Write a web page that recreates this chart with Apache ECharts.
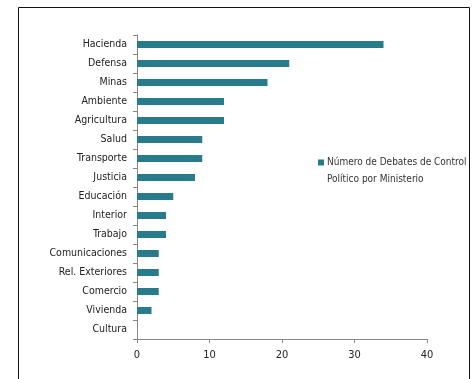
<!DOCTYPE html>
<html><head><meta charset="utf-8">
<script src="https://cdn.jsdelivr.net/npm/echarts@6/dist/echarts.min.js"></script>
<style>html,body{margin:0;padding:0;background:#fff;}#c{width:474px;height:379px;}</style>
</head><body><div id="c"></div>
<script>
var categories = ['Hacienda','Defensa','Minas','Ambiente','Agricultura','Salud','Transporte','Justicia','Educación','Interior','Trabajo','Comunicaciones','Rel. Exteriores','Comercio','Vivienda','Cultura'];
var values = [34,21,18,12,12,9,9,8,5,4,4,3,3,3,2,0];
var seriesName = 'Número de Debates de Control Político por Ministerio';
var legendLines = ['Número de Debates de Control','Político por Ministerio'];
var xTicks = [0,10,20,30,40];
var FONT = '"DejaVu Sans Condensed",sans-serif';
var COLOR = '#277b8b';
var chart = echarts.init(document.getElementById('c'));
chart.setOption({
  animation:false,
  backgroundColor:'#fff',
  graphic:[{type:'rect',shape:{x:18.5,y:7.5,width:451,height:400},style:{fill:'none',stroke:'#111',lineWidth:1},silent:true}],
  grid:{left:137,right:47,top:35,bottom:40},
  legend:{show:true,left:318,top:154,padding:0,itemWidth:0,itemHeight:0,icon:'rect',itemGap:0,
    formatter:function(){return '{sq|}{t|'+legendLines[0]+'}\n{t2|'+legendLines[1]+'}';},
    textStyle:{fontFamily:FONT,fontSize:10,color:'#333',lineHeight:17,padding:[0,0,0,-5],
      rich:{sq:{width:6,height:6,backgroundColor:COLOR},
            t:{fontFamily:FONT,fontSize:10,color:'#333',lineHeight:17,padding:[0,0,0,3]},
            t2:{fontFamily:FONT,fontSize:10,color:'#333',lineHeight:17,padding:[0,0,0,9]}}},
    data:[seriesName]},
  xAxis:{type:'value',min:0,max:40,interval:10,
    axisLine:{show:true,lineStyle:{color:'#888'}},
    axisTick:{show:true,length:4,lineStyle:{color:'#888'}},
    splitLine:{show:false},
    axisLabel:{margin:11,fontFamily:FONT,fontSize:11,color:'#222',formatter:function(v){return xTicks.indexOf(v)>=0?String(v):'';}}},
  yAxis:{type:'category',data:categories,inverse:true,
    axisLine:{show:true,lineStyle:{color:'#888'}},
    axisTick:{show:true,length:4,lineStyle:{color:'#888'}},
    axisLabel:{margin:10,fontFamily:FONT,fontSize:10.5,color:'#222'}},
  series:[{name:seriesName,type:'bar',data:values,barWidth:7,itemStyle:{color:COLOR}}]
});
</script></body></html>
